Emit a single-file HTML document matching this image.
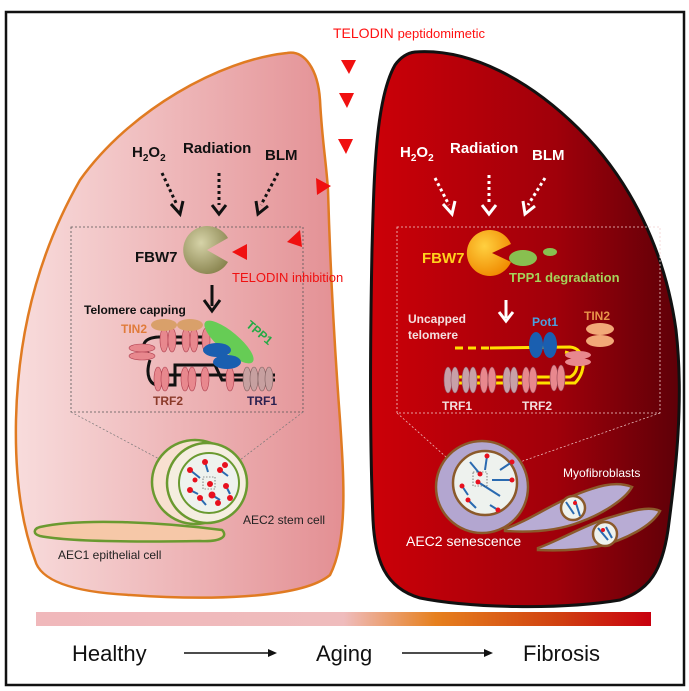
<!DOCTYPE html>
<html><head><meta charset="utf-8"><style>
html,body{margin:0;padding:0;background:#fff;}
svg{display:block;font-family:"Liberation Sans",sans-serif;}
</style></head><body>
<svg width="689" height="691" viewBox="0 0 689 691" xmlns="http://www.w3.org/2000/svg">
<defs>
<linearGradient id="gl" x1="0" x2="1" y1="0" y2="0"><stop offset="0" stop-color="#f8dcdc"/><stop offset="1" stop-color="#e38f93"/></linearGradient>
<linearGradient id="gr" x1="0" x2="1" y1="0" y2="0"><stop offset="0" stop-color="#cc0008"/><stop offset="0.6" stop-color="#a0000a"/><stop offset="1" stop-color="#5e0008"/></linearGradient>
<linearGradient id="gb" x1="0" x2="1" y1="0" y2="0"><stop offset="0" stop-color="#f0b8bb"/><stop offset="0.5" stop-color="#efbcbd"/><stop offset="0.65" stop-color="#e6801e"/><stop offset="0.85" stop-color="#d04010"/><stop offset="1" stop-color="#c8000e"/></linearGradient>
<radialGradient id="pg" cx="0.4" cy="0.35" r="0.7"><stop offset="0" stop-color="#d6d3a8"/><stop offset="1" stop-color="#8a8550"/></radialGradient>
<radialGradient id="po" cx="0.4" cy="0.35" r="0.7"><stop offset="0" stop-color="#ffd040"/><stop offset="1" stop-color="#f08a00"/></radialGradient>
</defs>
<rect x="6" y="12" width="678" height="673" fill="#fff" stroke="#111" stroke-width="2.5"/>

<path d="M287,53 C305,50 318,70 320,100 C322,140 326,160 328,190 C330,260 334,340 340,420 C344,480 348,540 330,575 C300,600 200,600 130,595 C70,592 40,580 35,560 C20,520 15,470 16,420 C18,330 40,250 80,180 C130,110 220,60 287,53 Z" fill="url(#gl)" stroke="#e07b22" stroke-width="2.5"/>
<path d="M415,52 C470,48 530,80 580,130 C630,180 665,250 676,330 C684,400 676,470 668,530 C662,570 650,590 620,600 C560,610 470,608 420,598 C385,588 375,560 373,520 C370,450 370,350 372,250 C374,180 375,100 395,65 C400,58 407,53 415,52 Z" fill="url(#gr)" stroke="#111" stroke-width="3"/>

<text x="333" y="38" font-size="14" fill="#ff1010">TELODIN <tspan font-size="13">peptidomimetic</tspan></text>
<g fill="#f01010">
<polygon points="341,60 356,60 349,74"/>
<polygon points="339,93 354,93 347,108"/>
<polygon points="338,139 353,139 346,154"/>
<polygon points="316,178 331,186 317,195"/>
<polygon points="247,244 247,260 232,252"/>
<polygon points="300,230 302,247 287,242"/>
</g>

<g font-weight="bold" font-size="15" fill="#111">
<text x="132" y="157">H<tspan font-size="10" dy="4">2</tspan><tspan dy="-4">O</tspan><tspan font-size="10" dy="4">2</tspan></text>
<text x="183" y="153">Radiation</text>
<text x="265" y="160">BLM</text>
</g>
<g font-weight="bold" font-size="15" fill="#fff">
<text x="400" y="157">H<tspan font-size="10" dy="4">2</tspan><tspan dy="-4">O</tspan><tspan font-size="10" dy="4">2</tspan></text>
<text x="450" y="153">Radiation</text>
<text x="532" y="160">BLM</text>
</g>
<g stroke="#111" stroke-width="3" stroke-dasharray="3,3" fill="none">
<line x1="162" y1="173" x2="177" y2="205"/><line x1="219" y1="173" x2="219" y2="205"/><line x1="278" y1="173" x2="261" y2="205"/>
</g>
<g stroke="#111" stroke-width="3" fill="none">
<polyline points="171,204 180,214 183,201"/><polyline points="212,205 219,214 226,205"/><polyline points="256,201 258,214 268,206"/>
</g>
<g stroke="#fff" stroke-width="3" stroke-dasharray="3,3" fill="none">
<line x1="435" y1="178" x2="449" y2="205"/><line x1="489" y1="175" x2="489" y2="205"/><line x1="545" y1="178" x2="528" y2="205"/>
</g>
<g stroke="#fff" stroke-width="3" fill="none">
<polyline points="443,204 452,214 455,201"/><polyline points="482,205 489,214 496,205"/><polyline points="523,201 525,214 535,206"/>
</g>

<rect x="71" y="227" width="232" height="185" fill="none" stroke="#555" stroke-width="0.8" stroke-dasharray="2,2"/>
<rect x="397" y="227" width="263" height="186" fill="none" stroke="#f2d0d0" stroke-width="0.8" stroke-dasharray="2,2"/>
<line x1="71" y1="412" x2="180" y2="470" stroke="#777" stroke-width="0.7" stroke-dasharray="2,2"/>
<line x1="303" y1="412" x2="240" y2="460" stroke="#777" stroke-width="0.7" stroke-dasharray="2,2"/>
<line x1="397" y1="413" x2="455" y2="465" stroke="#f2d0d0" stroke-width="0.7" stroke-dasharray="2,2"/>
<line x1="660" y1="413" x2="520" y2="462" stroke="#f2d0d0" stroke-width="0.7" stroke-dasharray="2,2"/>

<path d="M207,250 L228,238 A24,24 0 1 0 228,262 Z" fill="url(#pg)"/>
<text x="135" y="262" font-size="15" font-weight="bold" fill="#111">FBW7</text>
<text x="232" y="282" font-size="13" fill="#f01010">TELODIN inhibition</text>
<line x1="212" y1="285" x2="212" y2="306" stroke="#111" stroke-width="3"/>
<polyline points="204,300 212,311 220,300" fill="none" stroke="#111" stroke-width="3"/>
<text x="84" y="314" font-size="12" font-weight="bold" fill="#111">Telomere capping</text>
<text x="121" y="333" font-size="12" font-weight="bold" fill="#e07b3a">TIN2</text>
<path d="M150,355 C138,345 145,338 158,337 M150,360 C145,375 150,385 158,385" fill="none" stroke="#111" stroke-width="3"/>
<line x1="158" y1="337" x2="205" y2="337" stroke="#111" stroke-width="3"/>
<line x1="160" y1="343" x2="205" y2="343" stroke="#111" stroke-width="3"/>
<polyline points="160,385 175,385 175,365 215,365 222,380 275,380" fill="none" stroke="#111" stroke-width="3"/>
<line x1="160" y1="375" x2="275" y2="375" stroke="#111" stroke-width="3"/>
<g fill="#e8888e" stroke="#b04050" stroke-width="0.6">
<ellipse cx="164" cy="340" rx="4" ry="12"/><ellipse cx="172" cy="340" rx="4" ry="12"/><ellipse cx="186" cy="340" rx="4" ry="12"/><ellipse cx="194" cy="340" rx="4" ry="12"/><ellipse cx="206" cy="340" rx="4" ry="12"/>
<ellipse cx="158" cy="379" rx="4" ry="12"/><ellipse cx="165" cy="379" rx="4" ry="12"/><ellipse cx="185" cy="379" rx="4" ry="12"/><ellipse cx="192" cy="379" rx="4" ry="12"/><ellipse cx="205" cy="379" rx="4" ry="12"/><ellipse cx="230" cy="379" rx="4" ry="12"/>
<ellipse cx="142" cy="348" rx="13" ry="4"/><ellipse cx="142" cy="356" rx="13" ry="4"/>
</g>
<g fill="#c7a0a0" stroke="#806060" stroke-width="0.6">
<ellipse cx="247" cy="379" rx="4" ry="12"/><ellipse cx="254" cy="379" rx="4" ry="12"/><ellipse cx="262" cy="379" rx="4" ry="12"/><ellipse cx="269" cy="379" rx="4" ry="12"/>
</g>
<ellipse cx="164" cy="325" rx="13" ry="6" fill="#d9a06a"/><ellipse cx="190" cy="325" rx="13" ry="6" fill="#d9a06a"/>
<ellipse cx="229" cy="342" rx="31" ry="10" fill="#66cc55" transform="rotate(40 229 342)"/>
<ellipse cx="217" cy="350" rx="14" ry="7" fill="#1a5fb0"/><ellipse cx="227" cy="362" rx="14" ry="7" fill="#1a5fb0"/>
<text x="244" y="330" font-size="12" font-weight="bold" fill="#22aa44" transform="rotate(40 250 330)">TPP1</text>
<text x="153" y="405" font-size="12" font-weight="bold" fill="#8b3a2a">TRF2</text>
<text x="247" y="405" font-size="12" font-weight="bold" fill="#2b2050">TRF1</text>

<path d="M492,253 L511,244 A23,23 0 1 0 511,262 Z" fill="url(#po)"/>
<ellipse cx="523" cy="258" rx="14" ry="8" fill="#88c050"/><ellipse cx="550" cy="252" rx="7" ry="4" fill="#88c050"/>
<text x="422" y="263" font-size="15" font-weight="bold" fill="#ffd21e">FBW7</text>
<text x="509" y="282" font-size="13" font-weight="bold" fill="#a5d45a">TPP1 degradation</text>
<line x1="506" y1="300" x2="506" y2="318" stroke="#fff" stroke-width="3"/>
<polyline points="499,312 506,321 513,312" fill="none" stroke="#fff" stroke-width="3"/>
<text x="408" y="323" font-size="12" font-weight="bold" fill="#f4e0e0">Uncapped</text>
<text x="408" y="339" font-size="12" font-weight="bold" fill="#f4e0e0">telomere</text>
<text x="532" y="326" font-size="12" font-weight="bold" fill="#4aa0e0">Pot1</text>
<text x="584" y="320" font-size="12" font-weight="bold" fill="#e8944a">TIN2</text>
<line x1="455" y1="348" x2="490" y2="348" stroke="#ffe000" stroke-width="3" stroke-dasharray="8,5"/>
<path d="M490,348 L570,347 C585,348 588,370 575,383 L445,383" fill="none" stroke="#ffe000" stroke-width="3"/>
<path d="M565,352 C580,355 580,372 570,377 L445,377" fill="none" stroke="#ffe000" stroke-width="3"/>
<ellipse cx="536" cy="345" rx="7" ry="13" fill="#1a5fb0"/><ellipse cx="550" cy="345" rx="7" ry="13" fill="#1a5fb0"/>
<ellipse cx="600" cy="329" rx="14" ry="6" fill="#f2a878"/><ellipse cx="600" cy="341" rx="14" ry="6" fill="#f2a878"/>
<ellipse cx="578" cy="355" rx="13" ry="4" fill="#e8888e"/><ellipse cx="578" cy="362" rx="13" ry="4" fill="#e8888e"/>
<g fill="#c8a0a8" stroke="#905060" stroke-width="0.6">
<ellipse cx="448" cy="380" rx="4" ry="13"/><ellipse cx="455" cy="380" rx="4" ry="13"/><ellipse cx="466" cy="380" rx="4" ry="13"/><ellipse cx="473" cy="380" rx="4" ry="13"/>
<ellipse cx="507" cy="380" rx="4" ry="13"/><ellipse cx="514" cy="380" rx="4" ry="13"/>
</g>
<g fill="#e8888e" stroke="#904050" stroke-width="0.6">
<ellipse cx="484" cy="380" rx="4" ry="13"/><ellipse cx="492" cy="380" rx="4" ry="13"/><ellipse cx="526" cy="380" rx="4" ry="13"/><ellipse cx="533" cy="380" rx="4" ry="13"/><ellipse cx="554" cy="378" rx="4" ry="13"/><ellipse cx="561" cy="378" rx="4" ry="13"/>
</g>
<text x="442" y="410" font-size="12" font-weight="bold" fill="#f4e0e0">TRF1</text>
<text x="522" y="410" font-size="12" font-weight="bold" fill="#f4e0e0">TRF2</text>

<path d="M40,527 C80,518 160,522 222,530 C228,536 222,542 200,541 C140,542 70,542 40,536 C33,534 33,529 40,527 Z" fill="#f6c8a8" stroke="#6a9a30" stroke-width="2.5"/>
<ellipse cx="195" cy="482" rx="43" ry="42" fill="#f8e0d0" stroke="#6a9a30" stroke-width="2.5"/>
<ellipse cx="207" cy="483" rx="40" ry="40" fill="#f5eee0" stroke="#6a9a30" stroke-width="2.5"/>
<circle cx="209" cy="483" r="30" fill="#eef2ee" stroke="#6a9a30" stroke-width="2"/>
<g stroke="#2a6ab0" stroke-width="2">
<line x1="190" y1="470" x2="200" y2="478"/><line x1="205" y1="462" x2="208" y2="472"/><line x1="220" y1="470" x2="228" y2="476"/><line x1="190" y1="490" x2="198" y2="494"/><line x1="212" y1="495" x2="220" y2="500"/><line x1="226" y1="486" x2="230" y2="494"/><line x1="200" y1="498" x2="206" y2="505"/>
</g>
<g fill="#e8101e">
<circle cx="190" cy="470" r="3"/><circle cx="205" cy="462" r="3"/><circle cx="220" cy="470" r="3"/><circle cx="190" cy="490" r="3"/><circle cx="212" cy="495" r="3.5"/><circle cx="226" cy="486" r="3"/><circle cx="200" cy="498" r="3"/><circle cx="210" cy="484" r="3"/><circle cx="225" cy="465" r="3"/><circle cx="195" cy="480" r="2.5"/><circle cx="218" cy="503" r="3"/><circle cx="230" cy="498" r="3"/>
</g>
<rect x="203" y="477" width="12" height="12" fill="none" stroke="#333" stroke-width="0.6" stroke-dasharray="1.5,1.5"/>
<text x="243" y="524" font-size="12" fill="#222">AEC2 stem cell</text>
<text x="58" y="559" font-size="12" fill="#222">AEC1 epithelial cell</text>

<path d="M505,529 C530,520 550,505 575,495 C595,487 615,480 632,487 C625,500 600,515 580,522 C560,530 535,533 505,531 Z" fill="#b8acd4" stroke="#8b5a2b" stroke-width="2.5"/>
<path d="M538,548 C560,540 585,525 608,518 C628,512 648,505 660,511 C652,526 625,540 600,546 C580,550 558,551 538,550 Z" fill="#b8acd4" stroke="#8b5a2b" stroke-width="2.5"/>
<circle cx="573" cy="508" r="12" fill="#eef2ee" stroke="#8b5a2b" stroke-width="2.5"/>
<circle cx="605" cy="534" r="12" fill="#eef2ee" stroke="#8b5a2b" stroke-width="2.5"/>
<circle cx="482" cy="487" r="46" fill="#b3a6d0" stroke="#8b5a2b" stroke-width="2.5"/>
<circle cx="485" cy="483" r="32" fill="#eef2ee" stroke="#8b5a2b" stroke-width="2.5"/>
<g stroke="#2a6ab0" stroke-width="2" fill="none">
<line x1="470" y1="462" x2="480" y2="474"/><line x1="487" y1="456" x2="485" y2="470"/><line x1="500" y1="470" x2="512" y2="462"/><line x1="478" y1="482" x2="500" y2="496"/><line x1="462" y1="486" x2="468" y2="495"/><line x1="492" y1="480" x2="512" y2="480"/><line x1="468" y1="500" x2="476" y2="508"/><line x1="490" y1="505" x2="498" y2="510"/>
<line x1="566" y1="502" x2="574" y2="514"/><line x1="575" y1="500" x2="580" y2="516"/><line x1="598" y1="528" x2="608" y2="540"/><line x1="606" y1="527" x2="612" y2="538"/>
</g>
<g fill="#e8101e">
<circle cx="480" cy="474" r="2.5"/><circle cx="487" cy="456" r="2.5"/><circle cx="512" cy="462" r="2.5"/><circle cx="478" cy="482" r="2.5"/><circle cx="462" cy="486" r="2.5"/><circle cx="512" cy="480" r="2.5"/><circle cx="468" cy="500" r="2.5"/><circle cx="498" cy="510" r="2.5"/><circle cx="575" cy="503" r="2"/><circle cx="603" cy="530" r="2"/>
</g>
<rect x="473" y="472" width="14" height="14" fill="none" stroke="#333" stroke-width="0.6" stroke-dasharray="1.5,1.5"/>
<text x="563" y="477" font-size="12" fill="#fff">Myofibroblasts</text>
<text x="406" y="546" font-size="14" fill="#fff">AEC2 senescence</text>

<rect x="36" y="612" width="615" height="14" fill="url(#gb)"/>
<g font-size="22" fill="#111">
<text x="72" y="661">Healthy</text>
<text x="316" y="661">Aging</text>
<text x="523" y="661">Fibrosis</text>
</g>
<line x1="184" y1="653" x2="270" y2="653" stroke="#111" stroke-width="1.5"/>
<polygon points="268,649 277,653 268,657" fill="#111"/>
<line x1="402" y1="653" x2="486" y2="653" stroke="#111" stroke-width="1.5"/>
<polygon points="484,649 493,653 484,657" fill="#111"/>
</svg>
</body></html>
